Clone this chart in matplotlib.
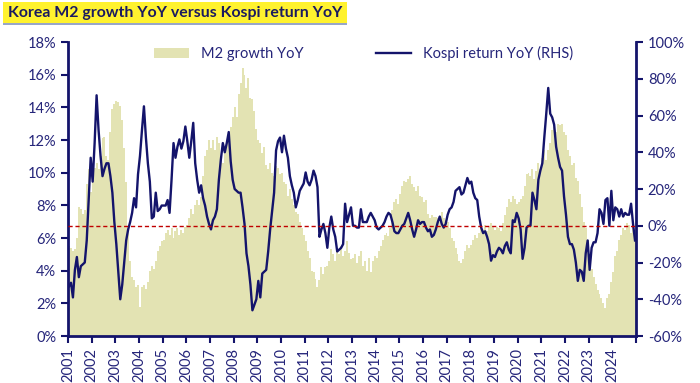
import numpy as np
import matplotlib
matplotlib.use("Agg")
import matplotlib.pyplot as plt
from matplotlib.patches import Rectangle

# monthly data Jan 2001 .. Dec 2024
M2_YOY = [  # % (LHS)
    5.5, 5.4, 5.2, 5.3, 6.0, 7.9, 7.8, 7.5, 7.7, 9.3, 10.2, 8.8,        # 2001
    10.0, 10.3, 10.6, 10.2, 11.0, 12.1, 12.2, 11.0, 10.8, 12.5, 13.9, 14.2,  # 2002
    14.4, 14.3, 14.1, 13.2, 11.5, 9.4, 6.5, 4.6, 3.6, 3.4, 3.0, 3.1,    # 2003
    1.8, 3.0, 3.1, 2.9, 3.3, 4.0, 4.3, 4.1, 4.6, 5.2, 5.5, 5.8,         # 2004
    5.9, 6.3, 6.5, 6.2, 6.6, 6.0, 6.4, 6.6, 6.2, 6.5, 6.3, 6.7,         # 2005
    6.8, 7.2, 7.8, 7.5, 8.0, 8.3, 8.0, 8.5, 9.8, 11.0, 11.4, 12.0,      # 2006
    11.5, 12.0, 11.4, 12.2, 11.8, 11.0, 10.6, 11.4, 12.0, 12.3, 12.8, 13.4,  # 2007
    14.0, 13.4, 14.8, 15.5, 16.4, 16.0, 15.2, 15.8, 14.6, 14.5, 13.8, 12.7,  # 2008
    12.0, 11.8, 11.2, 11.6, 10.5, 10.2, 10.6, 10.0, 9.8, 10.4, 10.3, 9.9,    # 2009
    10.0, 9.4, 9.3, 8.6, 9.0, 8.4, 8.0, 7.6, 7.5, 7.0, 6.6, 6.2,        # 2010
    5.8, 5.2, 4.8, 4.0, 3.9, 3.5, 3.0, 3.4, 4.2, 3.8, 4.2, 4.3,         # 2011
    4.6, 5.3, 5.0, 4.6, 5.4, 5.0, 5.5, 4.9, 5.2, 5.8, 5.1, 4.7,         # 2012
    4.8, 5.0, 4.5, 4.9, 5.2, 4.3, 4.6, 4.0, 4.8, 3.9, 4.6, 4.9,         # 2013
    4.8, 5.2, 5.5, 5.9, 6.2, 6.3, 6.1, 6.6, 7.7, 8.2, 8.4, 8.1,         # 2014
    8.7, 9.2, 9.5, 9.4, 9.6, 9.8, 9.3, 9.1, 8.9, 9.2, 8.6, 8.5,         # 2015
    8.2, 8.3, 7.5, 7.2, 7.4, 7.3, 7.3, 7.2, 7.0, 7.6, 7.2, 7.1,         # 2016
    7.0, 6.6, 6.0, 5.8, 5.4, 5.0, 4.6, 4.5, 4.7, 5.2, 5.6, 5.4,         # 2017
    5.6, 5.9, 6.2, 6.0, 6.3, 6.6, 6.5, 6.8, 6.4, 6.7, 6.9, 6.7,         # 2018
    6.5, 6.7, 6.6, 6.4, 6.9, 7.4, 7.9, 8.4, 8.2, 8.6, 8.4, 8.1,         # 2019
    8.2, 8.4, 8.6, 9.2, 9.9, 10.0, 9.8, 10.2, 9.6, 10.1, 10.6, 10.2,    # 2020
    10.9, 11.4, 10.8, 11.4, 11.8, 12.6, 12.8, 12.5, 13.0, 12.9, 13.0, 12.5,  # 2021
    12.3, 11.4, 11.0, 10.5, 10.6, 9.7, 9.5, 8.7, 7.9, 7.0, 6.6, 5.9,    # 2022
    5.0, 4.1, 3.6, 3.2, 2.8, 2.6, 2.3, 2.0, 1.7, 2.3, 2.6, 3.3,         # 2023
    3.9, 4.9, 5.2, 5.9, 6.2, 6.6, 6.5, 6.9, 6.8, 6.3, 6.7, 6.5,         # 2024
]
KOSPI_YOY = [  # % (RHS)
    -33, -31, -39, -24, -17, -28, -22, -21, -20, -8, 15, 37,
    24, 45, 71, 52, 38, 27, 31, 34, 34, 27, 18, 2,
    -10, -25, -40, -32, -20, -8, -2, 2, 7, 15, 10, 28,
    38, 52, 65, 48, 34, 24, 4, 5, 18, 8, 9, 11,
    11, 11, 14, 7, 25, 45, 37, 43, 47, 42, 46, 54,
    46, 37, 46, 56, 34, 25, 18, 22, 15, 11, 5, 1,
    -2, 3, 5, 9, 25, 36, 45, 40, 45, 51, 35, 25,
    20, 19, 18, 18, 10, 1, -15, -22, -32, -46, -43, -40,
    -30, -39, -26, -25, -24, -14, -2, 8, 18, 41, 46, 48,
    40, 49, 42, 37, 27, 22, 18, 10, 14, 19, 21, 23,
    29, 24, 22, 25, 30, 27, 21, -6, -2, 1, -4, -12,
    -1, 5, -2, -6, -14, -13, -12, -10, 12, 2, 6, 10,
    0, 0, -1, -1, 9, 2, 2, 2, 5, 7, 5, 3,
    -1, -2, -1, 0, 2, 5, 7, 6, 2, -3, -4, -4,
    -2, 0, 1, 4, 7, 3, -2, -6, -2, 3, 1, 2,
    2, -1, -3, -2, -6, -5, -2, 2, 5, 1, -1, 1,
    6, 9, 10, 13, 19, 20, 21, 17, 18, 22, 26, 23,
    24, 18, 15, 14, 5, -1, -4, -3, -6, -10, -19, -16,
    -17, -14, -12, -13, -15, -11, -9, -13, -15, 3, 2, 7,
    4, -2, -18, -12, -1, 0, 0, 18, 14, 9, 25, 30,
    34, 48, 61, 75, 61, 59, 55, 43, 37, 32, 30, 16,
    6, -6, -10, -10, -13, -20, -30, -24, -25, -30, -15, -8,
    -24, -12, -9, -9, -4, 9, 7, 1, 14, 15, 0, 19,
    3, 10, 9, 5, 9, 5, 7, 6, 6, 12, 1, -8,
]
YEARS = list(range(2001, 2025))
TITLE = "Korea M2 growth YoY versus Kospi return YoY"

NAVY = "#14146b"
TXT = "#25257a"
BAR = "#e3e3b3"

plt.rcParams["font.family"] = ["Lato", "DejaVu Sans"]

t = YEARS[0] + (np.arange(len(M2_YOY)) + 0.5) / 12

fig = plt.figure(figsize=(7, 3.83), dpi=100)
ax = fig.add_axes([68/700, 1 - 336/383, (636-68)/700, (336-42)/383])
ax2 = ax.twinx()

ax.bar(t, M2_YOY, width=1/12, color=BAR, edgecolor="none", label="M2 growth YoY")
ax2.plot(t, KOSPI_YOY, color=NAVY, lw=1.7, label="Kospi return YoY (RHS)")
ax2.axhline(0, color="#c00000", lw=1.0, ls=(0, (3, 2)))

ax.set_xlim(2001, 2025)
ax.set_ylim(0, 18)
ax2.set_ylim(-60, 100)
ax.set_xticks(YEARS + [2025])
ax.set_xticklabels([str(y) for y in YEARS] + [""], rotation=90)
ax.set_yticks(range(0, 19, 2))
ax.set_yticklabels([f"{v}%" for v in range(0, 19, 2)])
ax2.set_yticks(range(-60, 101, 20))
ax2.set_yticklabels([f"{v}%" for v in range(-60, 101, 20)])

for a in (ax, ax2):
    a.spines["top"].set_visible(False)
    for s in ("left", "right", "bottom"):
        a.spines[s].set_color(NAVY)
        a.spines[s].set_linewidth(2)
    a.tick_params(colors=NAVY, labelcolor=TXT, labelsize=10.5, width=1.5, length=5)
ax.spines["right"].set_visible(False)
ax2.spines["left"].set_visible(False)
ax2.spines["bottom"].set_visible(False)

h1, l1 = ax.get_legend_handles_labels()
h2, l2 = ax2.get_legend_handles_labels()
leg = ax2.legend(h1 + h2, l1 + l2, ncol=2, loc="upper center", bbox_to_anchor=(0.52, 1.03),
                 frameon=False, fontsize=10.5, columnspacing=5, handlelength=2.4)
for txt in leg.get_texts():
    txt.set_color(TXT)

# title bar
fig.patches.append(Rectangle((3/700, 1 - 23/383), 344/700, 21/383, transform=fig.transFigure,
                             facecolor="#fff22e", edgecolor="none"))
fig.patches.append(Rectangle((3/700, 1 - 25/383), 344/700, 2/383, transform=fig.transFigure,
                             facecolor="#98a6c8", edgecolor="none"))
fig.text(8/700, 1 - 13/383, TITLE, fontsize=11.4, fontweight="bold", color="#1a1a60",
         va="center", ha="left")

fig.savefig("out.png", dpi=100)
